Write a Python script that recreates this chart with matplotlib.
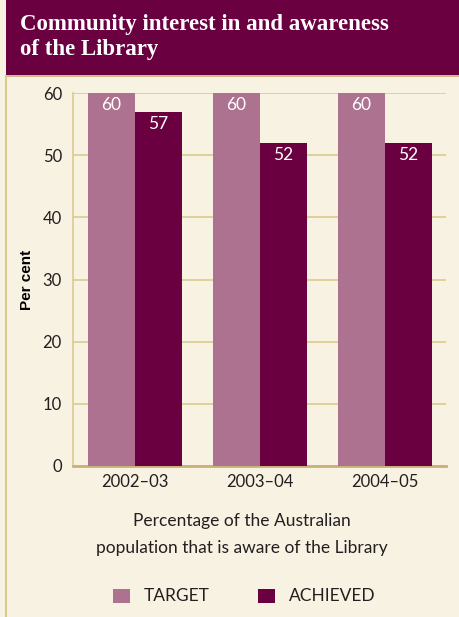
import matplotlib.pyplot as plt
import numpy as np
from matplotlib.patches import Rectangle

plt.rcParams["font.family"] = ["Lato", "DejaVu Sans"]

CREAM = "#F8F2E2"
PLUM = "#6B0040"
MAUVE = "#AD728F"
GOLD = "#D9CB8E"
TEXT = "#231F20"

years = ["2002–03", "2003–04", "2004–05"]
target = [60, 60, 60]
achieved = [57, 52, 52]
yticks = [0, 10, 20, 30, 40, 50, 60]


def main():
    W, H = 460, 617
    fig = plt.figure(figsize=(W / 100, H / 100), dpi=100)
    fig.patch.set_facecolor(CREAM)

    # banner + left border
    fig.patches.append(Rectangle((6 / W, 1 - 75 / H), 1, 75 / H, transform=fig.transFigure,
                                 facecolor=PLUM, edgecolor="none", zorder=0))
    fig.lines.append(plt.Line2D([6 / W, 1], [1 - 76 / H] * 2, transform=fig.transFigure,
                                color="#C9B07A", lw=1.2))
    fig.lines.append(plt.Line2D([6 / W] * 2, [0, 1 - 76 / H], transform=fig.transFigure,
                                color=GOLD, lw=1.5))
    fig.text(20 / W, 1 - 37 / H, "Community interest in and awareness\nof the Library",
             color="white", fontsize=16.5, fontweight="bold", family="Liberation Serif",
             va="center", ha="left", linespacing=1.3)

    ax = fig.add_axes([73 / W, 1 - 466 / H, (446 - 73) / W, (466 - 93) / H])
    ax.set_facecolor(CREAM)
    x = np.arange(len(years))
    w = 0.375
    b1 = ax.bar(x - w / 2, target, w, color=MAUVE, zorder=3)
    b2 = ax.bar(x + w / 2, achieved, w, color=PLUM, zorder=3)
    for bars in (b1, b2):
        for r in bars:
            ax.text(r.get_x() + r.get_width() / 2, r.get_height() - 0.7, f"{r.get_height():.0f}",
                    ha="center", va="top", color="white", fontsize=12.5, zorder=4)

    ax.set_xlim(-0.496, 2.488)
    ax.set_ylim(0, 60)
    ax.set_yticks(yticks)
    ax.set_xticks(x)
    ax.set_xticklabels(years)
    ax.yaxis.grid(True, color=GOLD, lw=1.2, zorder=0)
    ax.set_axisbelow(True)
    for s in ("top", "right"):
        ax.spines[s].set_visible(False)
    ax.spines["left"].set_color(GOLD)
    ax.spines["left"].set_linewidth(1.2)
    ax.spines["bottom"].set_color("#C9B07A")
    ax.spines["bottom"].set_linewidth(2)
    ax.tick_params(length=0, labelsize=12, labelcolor=TEXT, pad=6)
    ax.tick_params(axis="y", pad=8)
    ax.set_ylabel("Per cent", fontsize=11, fontweight="bold", color="black",
                  family="Liberation Sans")
    ax.yaxis.set_label_coords(-0.105, 0.5)

    fig.text(242 / W, 1 - 521 / H, "Percentage of the Australian", ha="center",
             va="center", fontsize=12.5, color=TEXT)
    fig.text(242 / W, 1 - 548 / H, "population that is aware of the Library", ha="center",
             va="center", fontsize=12.5, color=TEXT)

    # legend
    for x0, col, lab in [(113, MAUVE, "TARGET"), (258, PLUM, "ACHIEVED")]:
        fig.patches.append(Rectangle((x0 / W, 1 - 603 / H), 17 / W, 14 / H,
                                     transform=fig.transFigure, facecolor=col,
                                     edgecolor="none"))
        fig.text((x0 + 31) / W, 1 - 596 / H, lab, ha="left", va="center",
                 fontsize=12.5, color=TEXT)

    plt.savefig("out.png", facecolor=CREAM, dpi=100)
    plt.close()


if __name__ == "__main__":
    main()
